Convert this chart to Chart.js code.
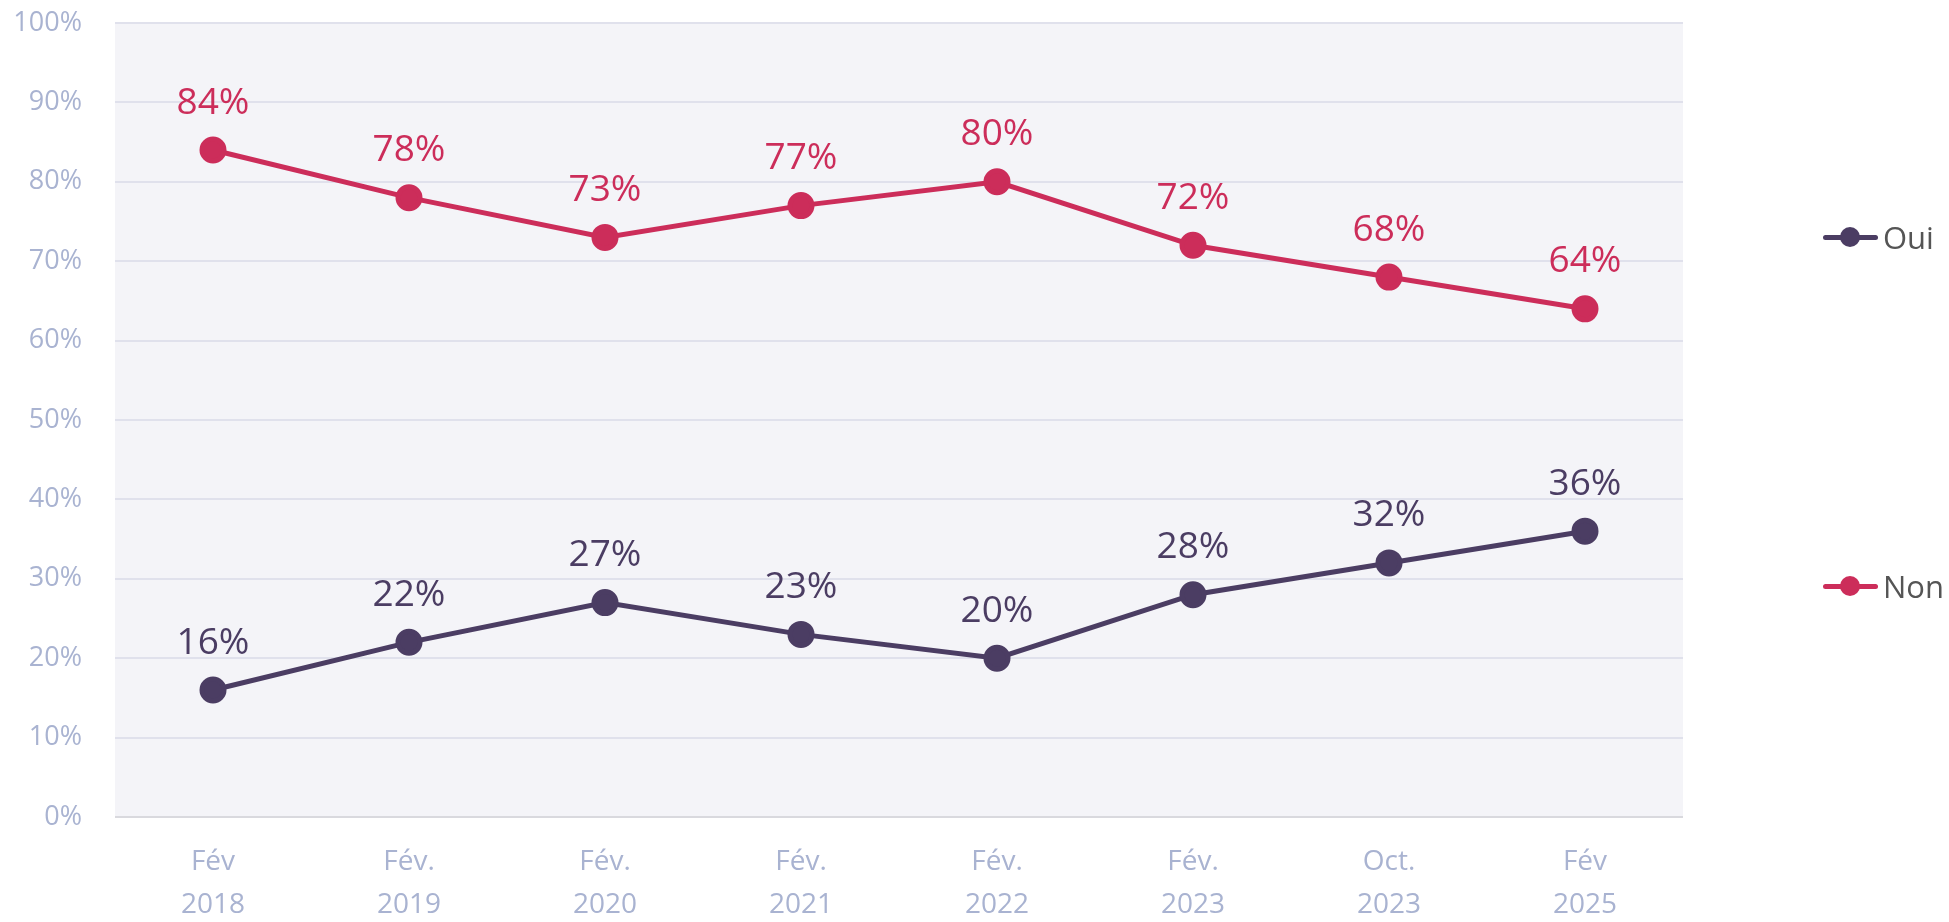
<!DOCTYPE html>
<html>
<head>
<meta charset="utf-8">
<script src="https://cdn.jsdelivr.net/npm/chart.js@4.4.1/dist/chart.umd.min.js"></script>
<style>
  body { margin: 0; background: #fff; font-family: "Open Sans", sans-serif; }
  #wrap { position: relative; width: 1949px; height: 922px; }
  .leg { position: absolute; left: 1823px; height: 40px; display: flex; align-items: center; font-size: 31px; color: #555; }
  .sym { position: relative; width: 55px; height: 20px; margin-right: 5px; }
  .sym .ln { position: absolute; left: 0; right: 0; top: 8px; height: 5px; border-radius: 3px; }
  .sym .dt { position: absolute; left: 17px; top: 0; width: 20px; height: 20px; border-radius: 50%; }
</style>
</head>
<body>
<div id="wrap">
  <canvas id="chart" width="1949" height="922"></canvas>
  <div class="leg" style="top:217px"><div class="sym"><div class="ln" style="background:#4b3d63"></div><div class="dt" style="background:#4b3d63"></div></div>Oui</div>
  <div class="leg" style="top:566px"><div class="sym"><div class="ln" style="background:#cc2d5a"></div><div class="dt" style="background:#cc2d5a"></div></div>Non</div>
</div>
<script>
var labels = [
  ['Fév', '2018'], ['Fév.', '2019'], ['Fév.', '2020'], ['Fév.', '2021'],
  ['Fév.', '2022'], ['Fév.', '2023'], ['Oct.', '2023'], ['Fév', '2025']
];
var oui = [16, 22, 27, 23, 20, 28, 32, 36];
var non = [84, 78, 73, 77, 80, 72, 68, 64];

var purple = '#4b3d63';
var red = '#cc2d5a';
var tickColor = '#a9b3d1';

// light background behind the plot area
var plotBg = {
  id: 'plotBg',
  beforeDraw: function(chart) {
    var a = chart.chartArea, c = chart.ctx;
    c.save();
    c.fillStyle = '#f4f4f8';
    c.fillRect(a.left, a.top, a.right - a.left, a.bottom - a.top);
    c.restore();
  }
};

// value labels above each point
var valueLabels = {
  id: 'valueLabels',
  afterDatasetsDraw: function(chart) {
    var c = chart.ctx;
    c.save();
    c.font = '37px "Open Sans"';
    c.textAlign = 'center';
    c.textBaseline = 'middle';
    chart.data.datasets.forEach(function(ds, i) {
      var meta = chart.getDatasetMeta(i);
      c.fillStyle = ds.borderColor;
      meta.data.forEach(function(pt, j) {
        c.fillText(ds.data[j] + '%', pt.x, pt.y - 47);
      });
    });
    c.restore();
  }
};

var ctx = document.getElementById('chart').getContext('2d');
var myChart = new Chart(ctx, {
  type: 'line',
  data: {
    labels: labels,
    datasets: [{
      label: 'Oui',
      data: oui,
      borderColor: purple,
      backgroundColor: purple,
      borderWidth: 5,
      pointRadius: 11,
      pointBackgroundColor: purple,
      pointBorderColor: purple,
      tension: 0
    }, {
      label: 'Non',
      data: non,
      borderColor: red,
      backgroundColor: red,
      borderWidth: 5,
      pointRadius: 11,
      pointBackgroundColor: red,
      pointBorderColor: red,
      tension: 0
    }]
  },
  options: {
    responsive: false,
    animation: false,
    layout: { padding: { top: 23, right: 266, left: 0, bottom: 0 } },
    plugins: {
      legend: { display: false },
      tooltip: { enabled: false }
    },
    scales: {
      x: {
        offset: true,
        grid: { display: false, drawTicks: false },
        border: { display: false },
        ticks: {
          color: tickColor,
          font: { family: 'Open Sans', size: 28, lineHeight: 1.53 },
          padding: 24,
          maxRotation: 0
        },
        afterFit: function(s) { s.height = 105; }
      },
      y: {
        min: 0,
        max: 100,
        grid: {
          drawTicks: true,
          tickLength: 33,
          tickColor: 'rgba(0,0,0,0)',
          lineWidth: 2,
          color: function(c) { return c.tick && c.tick.value === 0 ? '#d9d9de' : '#e0e1ec'; }
        },
        border: { display: false },
        ticks: {
          stepSize: 10,
          color: tickColor,
          font: { family: 'Open Sans', size: 27 },
          padding: 0,
          callback: function(v) { return v + '%'; }
        },
        afterFit: function(s) { s.width = 115; }
      }
    }
  },
  plugins: [plotBg, valueLabels]
});
</script>
</body>
</html>
